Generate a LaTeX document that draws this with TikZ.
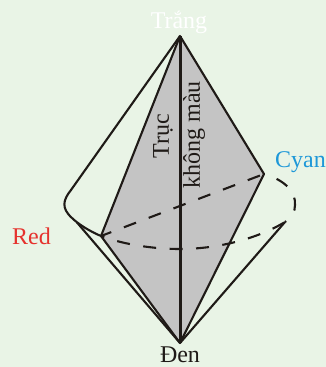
\documentclass[tikz,border=0pt]{standalone}
\usepackage{fontspec}
\setmainfont{Liberation Serif}
\usepackage{xcolor}
\usetikzlibrary{positioning}
\definecolor{lightbg}{HTML}{E9F4E6}
\definecolor{solidgray}{HTML}{C4C4C4}
\definecolor{inkblack}{HTML}{1F1A17}
\definecolor{cyanlabel}{HTML}{1E98D8}
\definecolor{redlabel}{HTML}{E5322D}

\begin{document}
\begin{tikzpicture}[
        x=1pt, y=-1pt,
        tonelabel/.style={font=\fontsize{24pt}{24pt}\selectfont, inner sep=0pt, text=inkblack},
        edge/.style={draw=inkblack, line width=2.1pt, line join=round},
        axisline/.style={draw=inkblack, line width=3pt},
        hidden/.style={edge, dash pattern=on 13pt off 13.5pt}
      ]
        \useasboundingbox[fill=lightbg] (0,0) rectangle (326,367);

        \coordinate (white) at (180,36);
        \coordinate (black) at (180,343);
        \coordinate (redv) at (101,236);
        \coordinate (cyanv) at (264,174);
        \coordinate (rear) at (285,222);
        \coordinate (bulge) at (72,218);
        \coordinate (shoulder) at (71,190);
        \coordinate (foot) at (77,222.5);

        \fill[solidgray] (white) -- (cyanv) -- (black) -- (redv) -- cycle;

        \draw[edge] (redv) -- (white) -- (cyanv) -- (black) -- (redv);
        \draw[axisline] (white) -- (black);
        \draw[edge] (white) -- (shoulder) .. controls (63,200) and (61,208) .. (bulge)
          .. controls (78,224) and (91,232) .. (redv);
        \draw[edge] (foot) -- (black);
        \draw[edge] (black) -- (rear);

        \draw[hidden, dash phase=2pt] (redv) -- (cyanv);
        \draw[hidden, dash phase=9.5pt] (redv) .. controls (125,245) and (155,249) .. (180,249)
          .. controls (215,249) and (255,240) .. (rear);
        \draw[hidden, dash phase=13pt] (cyanv) .. controls (285,180) and (296,192) .. (295,205)
          .. controls (295,212) and (292,217) .. (rear);

        \node[tonelabel, text=white] (trang) at (179,22) {Trắng};
        \node[tonelabel] (den) at (180,355) {Đen};
        \node[tonelabel, text=redlabel] (red) at (31.5,236) {Red};
        \node[tonelabel, text=cyanlabel, anchor=west] (cyan) at (275,162) {Cyan};
        \node[tonelabel, rotate=90] (truc) at (163,136) {Trục};
        \node[tonelabel, rotate=90] (khongmau) at (194,135) {không màu};
      \end{tikzpicture}
\end{document}
